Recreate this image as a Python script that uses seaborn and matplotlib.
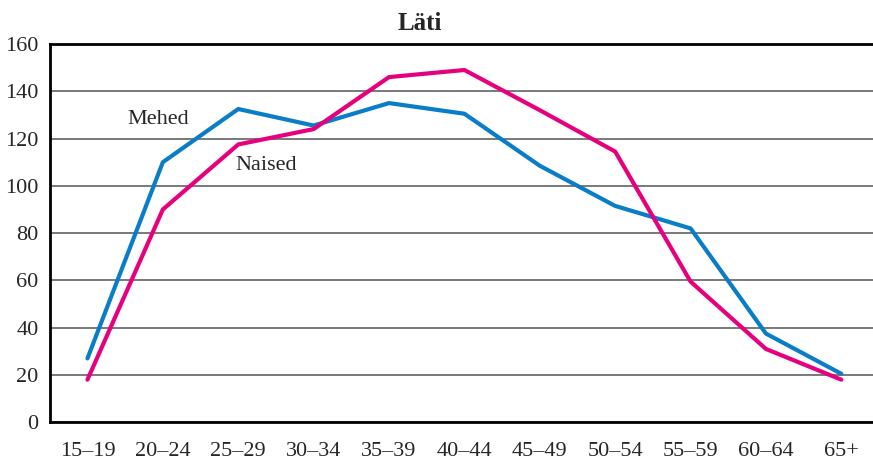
import pandas as pd
import seaborn as sns
import matplotlib.pyplot as plt

# Age groups and values
age_groups = ['15–19', '20–24', '25–29', '30–34', '35–39', '40–44',
              '45–49', '50–54', '55–59', '60–64', '65+']
mehed = [27, 110, 132.5, 125.5, 135, 130.5, 108.5, 91.5, 82, 37.5, 20.5]
naised = [18, 90, 117.5, 124, 146, 149, 132, 114.5, 59.5, 31, 18]

df = pd.DataFrame({
    'age': list(range(len(age_groups))) * 2,
    'value': mehed + naised,
    'sex': ['Mehed'] * len(mehed) + ['Naised'] * len(naised),
})

sns.set_style('white')
plt.rcParams['font.family'] = ['Liberation Serif', 'DejaVu Serif']

fig, ax = plt.subplots(figsize=(8.73, 4.63), dpi=100)
fig.subplots_adjust(left=0.057, right=1.0, top=0.905, bottom=0.088)

sns.lineplot(data=df, x='age', y='value', hue='sex',
             palette={'Mehed': '#0A7DC8', 'Naised': '#E6007E'},
             linewidth=3, ax=ax, legend=False)

ax.set_ylim(0, 160)
ax.set_xlim(-0.5, 10.42)
ax.set_yticks(range(0, 161, 20))
ax.set_xticks(range(len(age_groups)))
ax.set_xticklabels(age_groups)
ax.set_xticks([i + 0.5 for i in range(len(age_groups) - 1)], minor=True)
ax.tick_params(axis='x', which='major', length=0, labelsize=16, pad=14)
ax.tick_params(axis='x', which='minor', direction='in', length=8, width=1.2, color='black')
ax.tick_params(axis='y', length=0, labelsize=16, pad=8)
ax.yaxis.grid(True, color='#6e6e6e', linewidth=1.3)
ax.set_axisbelow(True)

for side in ['left', 'bottom', 'top']:
    ax.spines[side].set_visible(True)
    ax.spines[side].set_color('black')
    ax.spines[side].set_linewidth(2)
ax.spines['right'].set_visible(False)

ax.set_xlabel('')
ax.set_ylabel('')
ax.set_title('Läti', fontsize=18, fontweight='bold', x=0.45, pad=10)

ax.text(0.94, 128, 'Mehed', fontsize=16, ha='center', va='center')
ax.text(2.37, 108.5, 'Naised', fontsize=16, ha='center', va='center')

plt.savefig('out.png', dpi=100)
